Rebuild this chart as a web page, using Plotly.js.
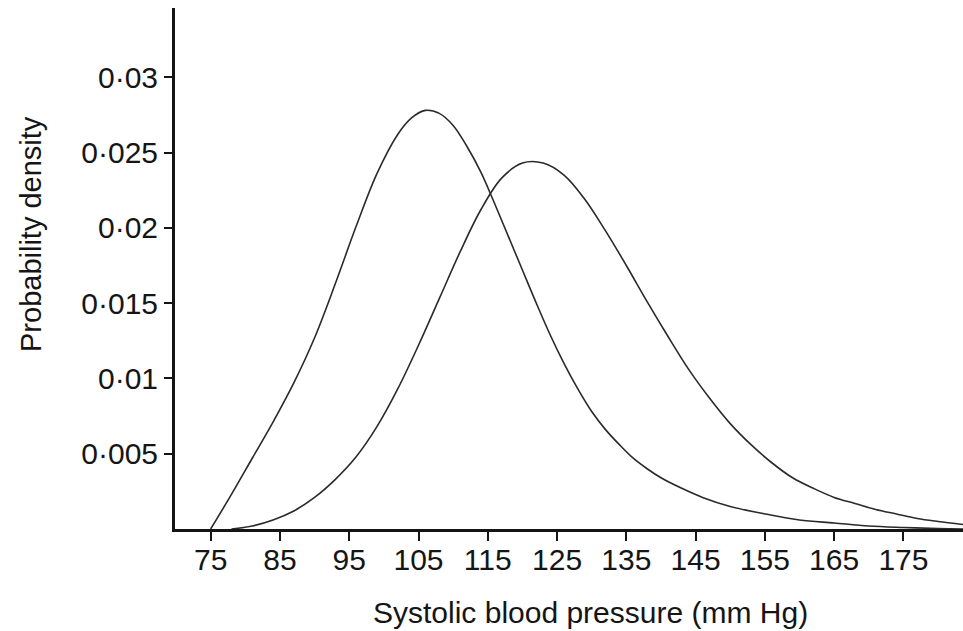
<!DOCTYPE html>
<html>
<head>
<meta charset="utf-8">
<script src="https://cdn.plot.ly/plotly-3.0.1.min.js"></script>
<style>html,body{margin:0;padding:0;background:#fff;}#chart{width:963px;height:631px;}</style>
</head>
<body>
<div id="chart"></div>
<script>
// Curve A (left, peak ~106 mm Hg)
const pressureA = [75, 78, 81, 84, 87, 90, 93, 96, 99, 102, 104, 106, 108, 110, 112, 114, 116, 118, 120, 122, 124, 126, 128, 130, 132, 134, 136, 138, 140, 143, 146, 150, 155, 160, 165, 170, 175, 180, 183.6];
const densityA  = [0.0, 0.0023, 0.0047, 0.0071, 0.0097, 0.0127, 0.0163, 0.0201, 0.0236, 0.0262, 0.0273, 0.0278, 0.0276, 0.0268, 0.0254, 0.0237, 0.0216, 0.0194, 0.0172, 0.0150, 0.0129, 0.0110, 0.0093, 0.0078, 0.0066, 0.0056, 0.0047, 0.0040, 0.0034, 0.0027, 0.0021, 0.0015, 0.0010, 0.0006, 0.0004, 0.0002, 0.0001, 0.00003, 0.0];
// Curve B (right, peak ~122 mm Hg)
const pressureB = [78, 81, 84, 87, 90, 93, 96, 99, 102, 105, 108, 111, 114, 117, 120, 123, 126, 129, 132, 135, 138, 141, 144, 147, 150, 153, 156, 159, 162, 165, 168, 171, 174, 177, 180, 183.6];
const densityB  = [0.0, 0.0002, 0.0006, 0.0012, 0.0021, 0.0033, 0.0048, 0.0068, 0.0093, 0.0122, 0.0153, 0.0184, 0.0212, 0.0233, 0.0243, 0.0243, 0.0235, 0.0219, 0.0198, 0.0175, 0.0151, 0.0128, 0.0106, 0.0087, 0.0070, 0.0056, 0.0044, 0.0034, 0.0027, 0.0021, 0.0017, 0.0013, 0.0010, 0.0007, 0.0005, 0.0003];
// Tick labels
const xTickVals = [75, 85, 95, 105, 115, 125, 135, 145, 155, 165, 175];
const xTickText = ["75", "85", "95", "105", "115", "125", "135", "145", "155", "165", "175"];
const yTickVals = [0.005, 0.01, 0.015, 0.02, 0.025, 0.03];
const yTickText = ["0·005", "0·01", "0·015", "0·02", "0·025", "0·03"];

const FONT = '"Liberation Sans", Arial, Helvetica, sans-serif';
const INK = '#151515';

const traces = [
  {x: pressureA, y: densityA, type: 'scatter', mode: 'lines',
   line: {color: '#2a2a2a', width: 1.6, shape: 'spline', smoothing: 1}, hoverinfo: 'skip'},
  {x: pressureB, y: densityB, type: 'scatter', mode: 'lines',
   line: {color: '#2a2a2a', width: 1.6, shape: 'spline', smoothing: 1}, hoverinfo: 'skip'}
];

const layout = {
  width: 963, height: 631,
  margin: {l: 175, r: 0, t: 8, b: 102, pad: 0},
  paper_bgcolor: '#fff', plot_bgcolor: '#fff',
  showlegend: false,
  font: {family: FONT, color: INK, size: 30},
  xaxis: {
    range: [69.85, 183.6], showgrid: false, zeroline: false,
    showline: true, linecolor: INK, linewidth: 3,
    ticks: 'outside', ticklen: 9, tickwidth: 2, tickcolor: INK,
    tickvals: xTickVals, ticktext: xTickText,
    tickfont: {family: FONT, size: 30, color: INK},
    ticklabelstandoff: -7,
    fixedrange: true
  },
  yaxis: {
    range: [0, 0.0346], showgrid: false, zeroline: false,
    showline: true, linecolor: INK, linewidth: 3,
    ticks: 'outside', ticklen: 8, tickwidth: 2, tickcolor: INK,
    tickvals: yTickVals, ticktext: yTickText,
    tickfont: {family: FONT, size: 30, color: INK},
    fixedrange: true
  },
  annotations: [
    {
      text: 'Systolic blood pressure (mm Hg)', xref: 'paper', yref: 'paper',
      x: (590 - 175) / 788, y: (529 - 612) / 521, xanchor: 'center', yanchor: 'middle',
      showarrow: false, font: {family: FONT, size: 30, color: INK}
    },
    {
      text: 'Probability density', xref: 'paper', yref: 'paper', textangle: -90,
      x: (31 - 175) / 788, y: (529 - 234) / 521, xanchor: 'center', yanchor: 'middle',
      showarrow: false, font: {family: FONT, size: 29, color: INK}
    }
  ]
};

Plotly.newPlot('chart', traces, layout, {displayModeBar: false, staticPlot: true});
</script>
</body>
</html>
